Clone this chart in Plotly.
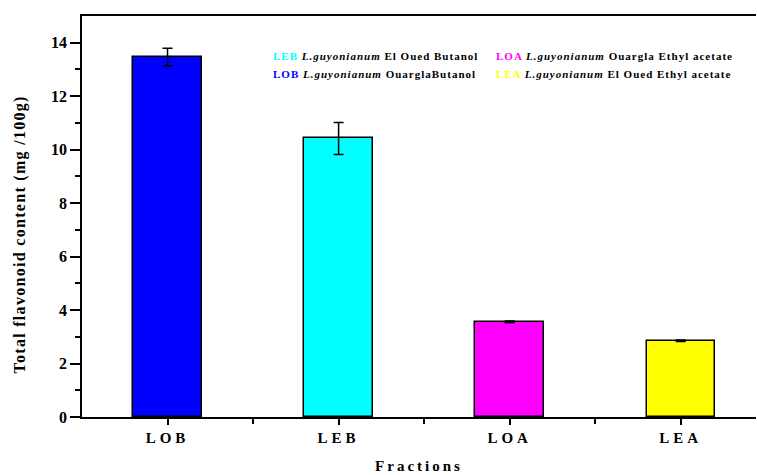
import plotly.graph_objects as go

categories = ["LOB", "LEB", "LOA", "LEA"]
values = [13.46, 10.42, 3.56, 2.85]
errors = [0.33, 0.60, 0.03, 0.03]
colors = ["#0000ff", "#00ffff", "#ff00ff", "#ffff00"]
y_ticks = [0, 2, 4, 6, 8, 10, 12, 14]

legend_left = [("LEB", "#00ffff", "El Oued Butanol"), ("LOB", "#0000ff", "OuarglaButanol")]
legend_right = [("LOA", "#ff00ff", "Ouargla Ethyl acetate"), ("LEA", "#ffff00", "El Oued Ethyl acetate")]

FONT = "Liberation Serif"
x_pos = list(range(len(categories)))


def spaced(text, px):
    return f"<span style='letter-spacing:{px}px'>{text}</span>"


fig = go.Figure()
fig.add_trace(go.Bar(
    x=x_pos, y=values, width=0.40,
    marker=dict(color=colors, line=dict(color="black", width=1.5)),
    error_y=dict(type="data", array=errors, color="black", thickness=1.5, width=5),
    showlegend=False,
))

fig.update_layout(
    width=757, height=475,
    margin=dict(l=82, r=1, t=16, b=58),
    plot_bgcolor="white", paper_bgcolor="white",
    font=dict(family=FONT, color="black"),
    bargap=0,
)
fig.update_xaxes(
    range=[-0.5, 3.44],
    tickmode="array", tickvals=x_pos, ticktext=[spaced(c, 4) for c in categories],
    ticks="outside", ticklen=6, tickwidth=1.5, tickcolor="black",
    tickfont=dict(family=FONT, size=15, weight="bold"),
    showline=True, linecolor="black", linewidth=1.8, mirror=True,
    showgrid=False, zeroline=False,
    minor=dict(tickmode="array", tickvals=[0.5, 1.5, 2.5], ticks="outside", ticklen=5, tickwidth=1.5, tickcolor="black"),
    title=dict(text=spaced("Fractions", 3), font=dict(family=FONT, size=15, weight="bold"), standoff=16),
)
fig.update_yaxes(
    range=[0, 15],
    tickmode="array", tickvals=y_ticks,
    ticks="outside", ticklen=10, tickwidth=1.5, tickcolor="black",
    tickfont=dict(family=FONT, size=16, weight="bold"),
    showline=True, linecolor="black", linewidth=1.8, mirror=False,
    showgrid=False, zeroline=False,
    minor=dict(tickmode="array", tickvals=[1, 3, 5, 7, 9, 11, 13], ticks="outside", ticklen=5, tickwidth=1.5, tickcolor="black"),
)

fig.add_annotation(
    text=spaced("Total flavonoid content (mg /100g)", 1.3),
    xref="paper", yref="paper", x=0, y=0.455, xanchor="center", yanchor="middle",
    xshift=-62, textangle=-90, showarrow=False,
    font=dict(family=FONT, size=16, weight="bold", color="black"),
)


def legend_text(code, color, place):
    return spaced(f"<span style='color:{color}'>{code}</span> "
                  f"<i>L.guyonianum</i> {place}", 1)


for i, (code, color, place) in enumerate(legend_left):
    fig.add_annotation(
        text=legend_text(code, color, place), xref="paper", yref="paper",
        x=(271 - 82) / 674, y=(416.7 - (56 + 18 * i)) / 401,
        xanchor="left", yanchor="middle", showarrow=False,
        font=dict(family=FONT, size=11, weight="bold", color="black"),
    )
for i, (code, color, place) in enumerate(legend_right):
    fig.add_annotation(
        text=legend_text(code, color, place), xref="paper", yref="paper",
        x=(494 - 82) / 674, y=(416.7 - (56 + 18 * i)) / 401,
        xanchor="left", yanchor="middle", showarrow=False,
        font=dict(family=FONT, size=11, weight="bold", color="black"),
    )

fig.write_html("out.html")
